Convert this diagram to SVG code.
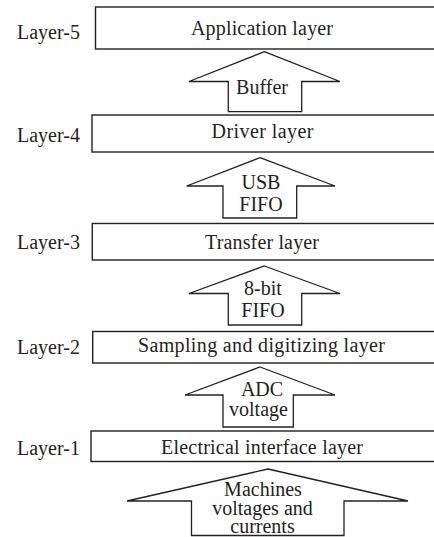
<svg xmlns="http://www.w3.org/2000/svg" width="434" height="537" viewBox="0 0 434 537">
  <style>
    .box { fill: #ffffff; stroke: #231f20; stroke-width: 1.4; }
    .arrow { fill: #ffffff; stroke: #231f20; stroke-width: 1.3; stroke-linejoin: miter; }
    text { font-family: "Liberation Serif", "Times New Roman", serif; font-size: 20px; fill: #231f20; }
    .mid { text-anchor: middle; }
  </style>
  <rect width="434" height="537" fill="#ffffff"/>

  <!-- layer names on the left -->
  <g id="layer-labels">
    <text x="17" y="39">Layer-5</text>
    <text x="17" y="142">Layer-4</text>
    <text x="17" y="249">Layer-3</text>
    <text x="17" y="354">Layer-2</text>
    <text x="17" y="455">Layer-1</text>
  </g>

  <!-- layer boxes (run off the right edge) -->
  <g id="layer5">
    <rect class="box" x="95.5" y="7" width="360" height="42"/>
    <text class="mid" x="262" y="35" textLength="142" lengthAdjust="spacing">Application layer</text>
  </g>
  <g id="layer4">
    <rect class="box" x="92" y="115" width="360" height="37"/>
    <text class="mid" x="262.5" y="138" textLength="102" lengthAdjust="spacing">Driver layer</text>
  </g>
  <g id="layer3">
    <rect class="box" x="92.3" y="223.5" width="360" height="36.5"/>
    <text class="mid" x="262" y="248.5" textLength="114" lengthAdjust="spacing">Transfer layer</text>
  </g>
  <g id="layer2">
    <rect class="box" x="92.7" y="331.5" width="360" height="31.5"/>
    <text class="mid" x="261.5" y="352" textLength="247" lengthAdjust="spacing">Sampling and digitizing layer</text>
  </g>
  <g id="layer1">
    <rect class="box" x="91" y="431" width="360" height="30.5"/>
    <text class="mid" x="262" y="453.5" textLength="202" lengthAdjust="spacing">Electrical interface layer</text>
  </g>

  <!-- block arrows carrying data up between layers -->
  <g id="connectors">
    <g id="arrow-buffer">
      <path class="arrow" d="M264.3,51.7 L340,81.5 L301.7,81.5 L301.7,111.7 L228.3,111.7 L228.3,81.5 L189,81.5 Z"/>
      <text class="mid" x="262" y="93.5">Buffer</text>
    </g>
    <g id="arrow-usb">
      <path class="arrow" d="M260,157.7 L335,186 L296.7,186 L296.7,218 L223,218 L223,186 L186.7,186 Z"/>
      <text class="mid" x="261" y="189">USB</text>
      <text class="mid" x="261" y="210.7">FIFO</text>
    </g>
    <g id="arrow-8bit">
      <path class="arrow" d="M264.3,266 L340,293.5 L301.7,293.5 L301.7,325 L228.3,325 L228.3,293.5 L189,293.5 Z"/>
      <text class="mid" x="263" y="295">8-bit</text>
      <text class="mid" x="263" y="316.7">FIFO</text>
    </g>
    <g id="arrow-adc">
      <path class="arrow" d="M260,367 L335,395 L293.3,395 L293.3,427 L223,427 L223,395 L185,395 Z"/>
      <text class="mid" x="262" y="396">ADC</text>
      <text class="mid" x="258.5" y="415.5">voltage</text>
    </g>
    <g id="arrow-input">
      <path class="arrow" d="M268,469 L408,501 L344,501 L344,535.5 L191.5,535.5 L191.5,501 L127,501 Z"/>
      <text class="mid" x="263" y="496">Machines</text>
      <text class="mid" x="262.5" y="514.5">voltages and</text>
      <text class="mid" x="262.5" y="533">currents</text>
    </g>
  </g>
</svg>
